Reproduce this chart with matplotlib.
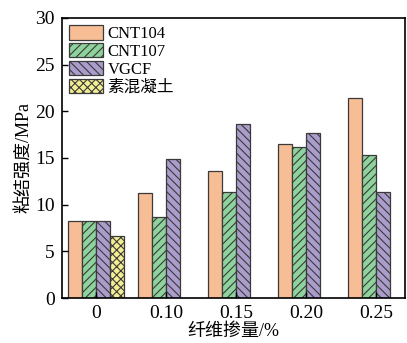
import numpy as np
import matplotlib.pyplot as plt

plt.rcParams['font.family'] = ['Liberation Serif', 'Noto Sans CJK SC']
plt.rcParams['hatch.linewidth'] = 0.8

groups = ['0', '0.10', '0.15', '0.20', '0.25']
cnt104 = [8.2, 11.3, 13.6, 16.5, 21.4]
cnt107 = [8.2, 8.7, 11.4, 16.2, 15.3]
vgcf = [8.2, 14.9, 18.6, 17.7, 11.4]
plain = [6.6]

series = [
    ('CNT104', cnt104, '#F7BD95', ''),
    ('CNT107', cnt107, '#8ED29C', '////'),
    ('VGCF', vgcf, '#AA9CCB', '\\\\\\\\'),
    ('素混凝土', plain, '#F3EE93', 'xxxx'),
]

fig = plt.figure(figsize=(4.07, 3.43), dpi=100)
ax = fig.add_axes([0.152, 0.131, 0.843, 0.817])

w = 0.2
x = np.arange(len(groups))
for i, (name, vals, color, hatch) in enumerate(series):
    pos = x[:len(vals)] + (i - 1.5) * w
    ax.bar(pos, vals, width=w, color=color, edgecolor='#3a3a3a',
           linewidth=0.9, hatch=hatch, label=name)

ax.set_xlim(-0.486, 4.41)
ax.set_ylim(0, 30)
ax.set_xticks(x)
ax.set_xticklabels(groups)
ax.set_yticks(range(0, 31, 5))
ax.tick_params(direction='in', labelsize=14, length=4, width=1, pad=5)
for s in ax.spines.values():
    s.set_linewidth(1.2)

ax.set_xlabel('纤维掺量/%', fontsize=13, labelpad=1)
ax.set_ylabel('粘结强度/MPa', fontsize=13, labelpad=2)

ax.legend(loc='upper left', fontsize=12, frameon=False, handlelength=2.0,
          handleheight=0.95, labelspacing=0.05, handletextpad=0.3,
          borderaxespad=0.2, borderpad=0.25)

fig.savefig('out.png', dpi=100)
